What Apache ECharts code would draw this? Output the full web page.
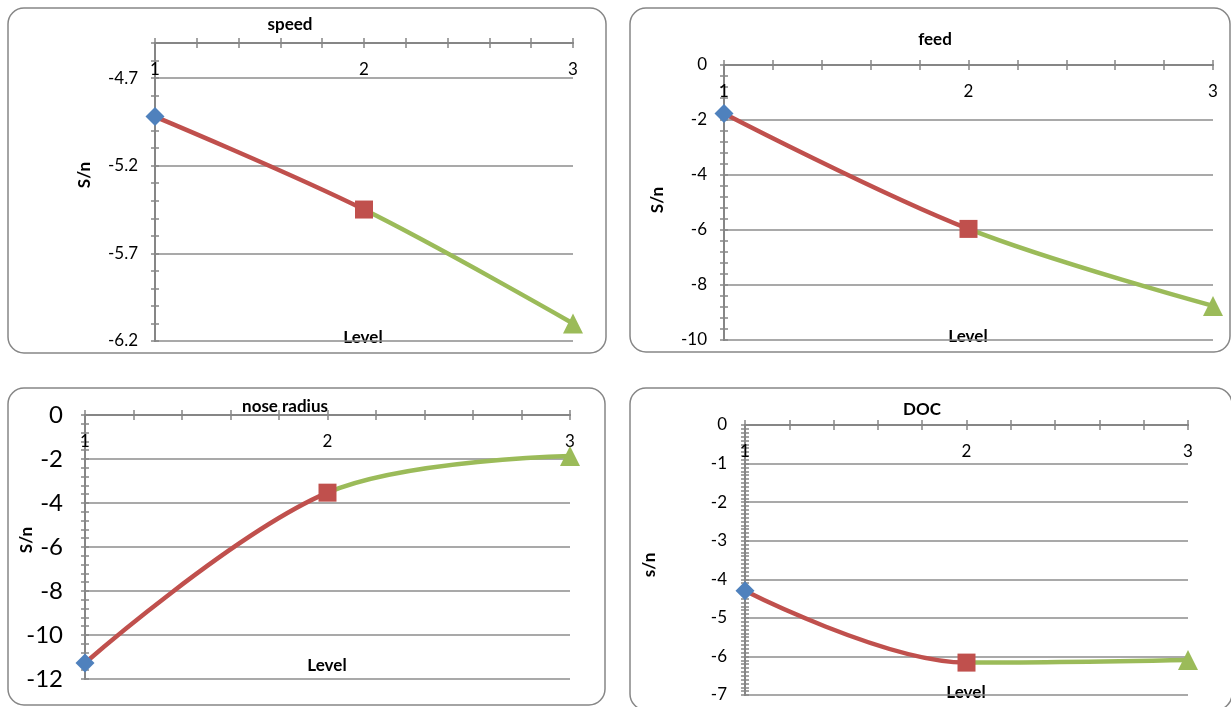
<!DOCTYPE html>
<html>
<head>
<meta charset="utf-8">
<title>S/n by level</title>
<script src="https://cdn.jsdelivr.net/npm/echarts@6/dist/echarts.min.js"></script>
<style>
  html, body { margin: 0; padding: 0; background: #fff; }
  #chart { width: 1231px; height: 707px; }
</style>
</head>
<body>
<div id="chart"></div>
<script>
// level of each factor (x axis)
const levels = [1, 2, 3];

// mean S/n
const speedSN = [-4.92, -5.45, -6.10];
const feedSN = [-1.76, -5.96, -8.76];
const noseSN = [-11.27, -3.53, -1.86];
const docSN = [-4.30, -6.16, -6.09];

const RED = '#C0504D';
const GREEN = '#9BBB59';
const BLUE = '#4F81BD';
const AXIS = '#868686';
const FONT = 'Lato';

const panels = [
    {
        title: 'speed', yName: 'S/n', values: speedSN,
        yMin: -6.2, yMax: -4.5, major: 0.5, minor: 0.1, labelSize: 17, labelGap: 17,
        grid: { left: 155, top: 43, width: 418, height: 298 },
        box: [8, 8, 598, 345], titleAt: [290, 25], levelAt: [363, 338], nameAt: [85, 175]
    },
    {
        title: 'feed', yName: 'S/n', values: feedSN,
        yMin: -10, yMax: 0, major: 2, minor: 0.4, labelSize: 17, labelGap: 17,
        grid: { left: 724, top: 65, width: 489, height: 275 },
        box: [630, 8, 600, 344], titleAt: [935, 40], levelAt: [968, 337], nameAt: [658, 200]
    },
    {
        title: 'nose radius', yName: 'S/n', values: noseSN,
        yMin: -12, yMax: 0, major: 2, minor: 0.4, labelSize: 24, labelGap: 22,
        grid: { left: 85, top: 415, width: 485, height: 264 },
        box: [8, 388, 597, 317], titleAt: [285, 407], levelAt: [327, 666], nameAt: [27, 540]
    },
    {
        title: 'DOC', yName: 's/n', values: docSN,
        yMin: -7, yMax: 0, major: 1, minor: 0.1, labelSize: 17, labelGap: 18,
        grid: { left: 745, top: 425, width: 443, height: 270 },
        box: [630, 388, 602, 322], titleAt: [922, 410], levelAt: [966, 693], nameAt: [650, 565]
    }
];

const markers = [
    { symbol: 'diamond', size: 19, color: BLUE },
    { symbol: 'rect', size: 18, color: RED },
    { symbol: 'triangle', size: 20, color: GREEN }
];

function levelLabel(v) {
    return Math.abs(v - Math.round(v)) < 1e-6 ? String(Math.round(v)) : '';
}

let grids = [], xAxes = [], yAxes = [], series = [], visualMaps = [], graphics = [];

panels.forEach((p, i) => {
    grids.push(p.grid);

    const xBase = {
        gridIndex: i, type: 'value', min: 1, max: 3, interval: 0.2, position: 'top',
        axisLine: { onZero: false, lineStyle: { color: AXIS, width: 2 } },
        splitLine: { show: false }
    };
    xAxes.push(Object.assign({}, xBase, {
        axisTick: { length: 5, lineStyle: { color: AXIS, width: 1.5 } },
        axisLabel: { inside: true, margin: 18, formatter: levelLabel, fontSize: 17, color: '#000', fontFamily: FONT }
    }));
    xAxes.push(Object.assign({}, xBase, {
        axisTick: { inside: true, length: 5, lineStyle: { color: AXIS, width: 1.5 } },
        axisLabel: { show: false }
    }));

    const yBase = {
        gridIndex: i, type: 'value', position: 'left', min: p.yMin, max: p.yMax,
        axisLine: { show: true, onZero: false, lineStyle: { color: AXIS, width: 2 } }
    };
    yAxes.push(Object.assign({}, yBase, {
        interval: p.major,
        axisTick: { show: false },
        axisLabel: {
            margin: p.labelGap, fontSize: p.labelSize, color: '#000', fontFamily: FONT,
            showMaxLabel: p.yMax === 0
        },
        splitLine: { lineStyle: { color: '#8c8c8c', width: 1.5 } }
    }));
    yAxes.push(Object.assign({}, yBase, {
        interval: p.minor,
        axisTick: { length: 4, lineStyle: { color: AXIS, width: 1.5 } },
        axisLabel: { show: false }, splitLine: { show: false }
    }));
    yAxes.push(Object.assign({}, yBase, {
        interval: p.minor,
        axisTick: { inside: true, length: 4, lineStyle: { color: AXIS, width: 1.5 } },
        axisLabel: { show: false }, splitLine: { show: false }
    }));

    const pts = levels.map((l, k) => [l, p.values[k]]);

    // red from level 1 to 2, green from 2 to 3
    visualMaps.push({
        show: false, type: 'piecewise', seriesIndex: series.length, dimension: 0,
        pieces: [{ gte: 0, lt: 2, color: RED }, { gte: 2, lte: 4, color: GREEN }],
        outOfRange: { color: GREEN }
    });
    series.push({
        type: 'line', xAxisIndex: 2 * i, yAxisIndex: 3 * i,
        data: pts, smooth: 0.35, showSymbol: false, silent: true,
        lineStyle: { width: 4.5 }
    });
    series.push({
        type: 'scatter', xAxisIndex: 2 * i, yAxisIndex: 3 * i, z: 5,
        data: pts.map((pt, k) => ({
            value: pt,
            symbol: markers[k].symbol,
            symbolSize: markers[k].size,
            itemStyle: { color: markers[k].color, opacity: 1 }
        }))
    });

    graphics.push({
        type: 'rect', z: -10,
        shape: { x: p.box[0], y: p.box[1], width: p.box[2], height: p.box[3], r: 16 },
        style: { fill: null, stroke: AXIS, lineWidth: 1.5 }
    });
    const txt = (s, at, rot) => ({
        type: 'text', x: at[0], y: at[1], rotation: rot || 0,
        style: {
            text: s, font: 'bold 17px ' + FONT, fill: '#000',
            align: 'center', verticalAlign: 'middle',
            textAlign: 'center', textVerticalAlign: 'middle'
        }
    });
    graphics.push(txt(p.title, p.titleAt));
    graphics.push(txt('Level', p.levelAt));
    graphics.push(txt(p.yName, p.nameAt, Math.PI / 2));
});

const chart = echarts.init(document.getElementById('chart'));
chart.setOption({
    animation: false,
    backgroundColor: '#fff',
    textStyle: { fontFamily: FONT },
    grid: grids,
    xAxis: xAxes,
    yAxis: yAxes,
    visualMap: visualMaps,
    series: series,
    graphic: graphics
});
</script>
</body>
</html>
